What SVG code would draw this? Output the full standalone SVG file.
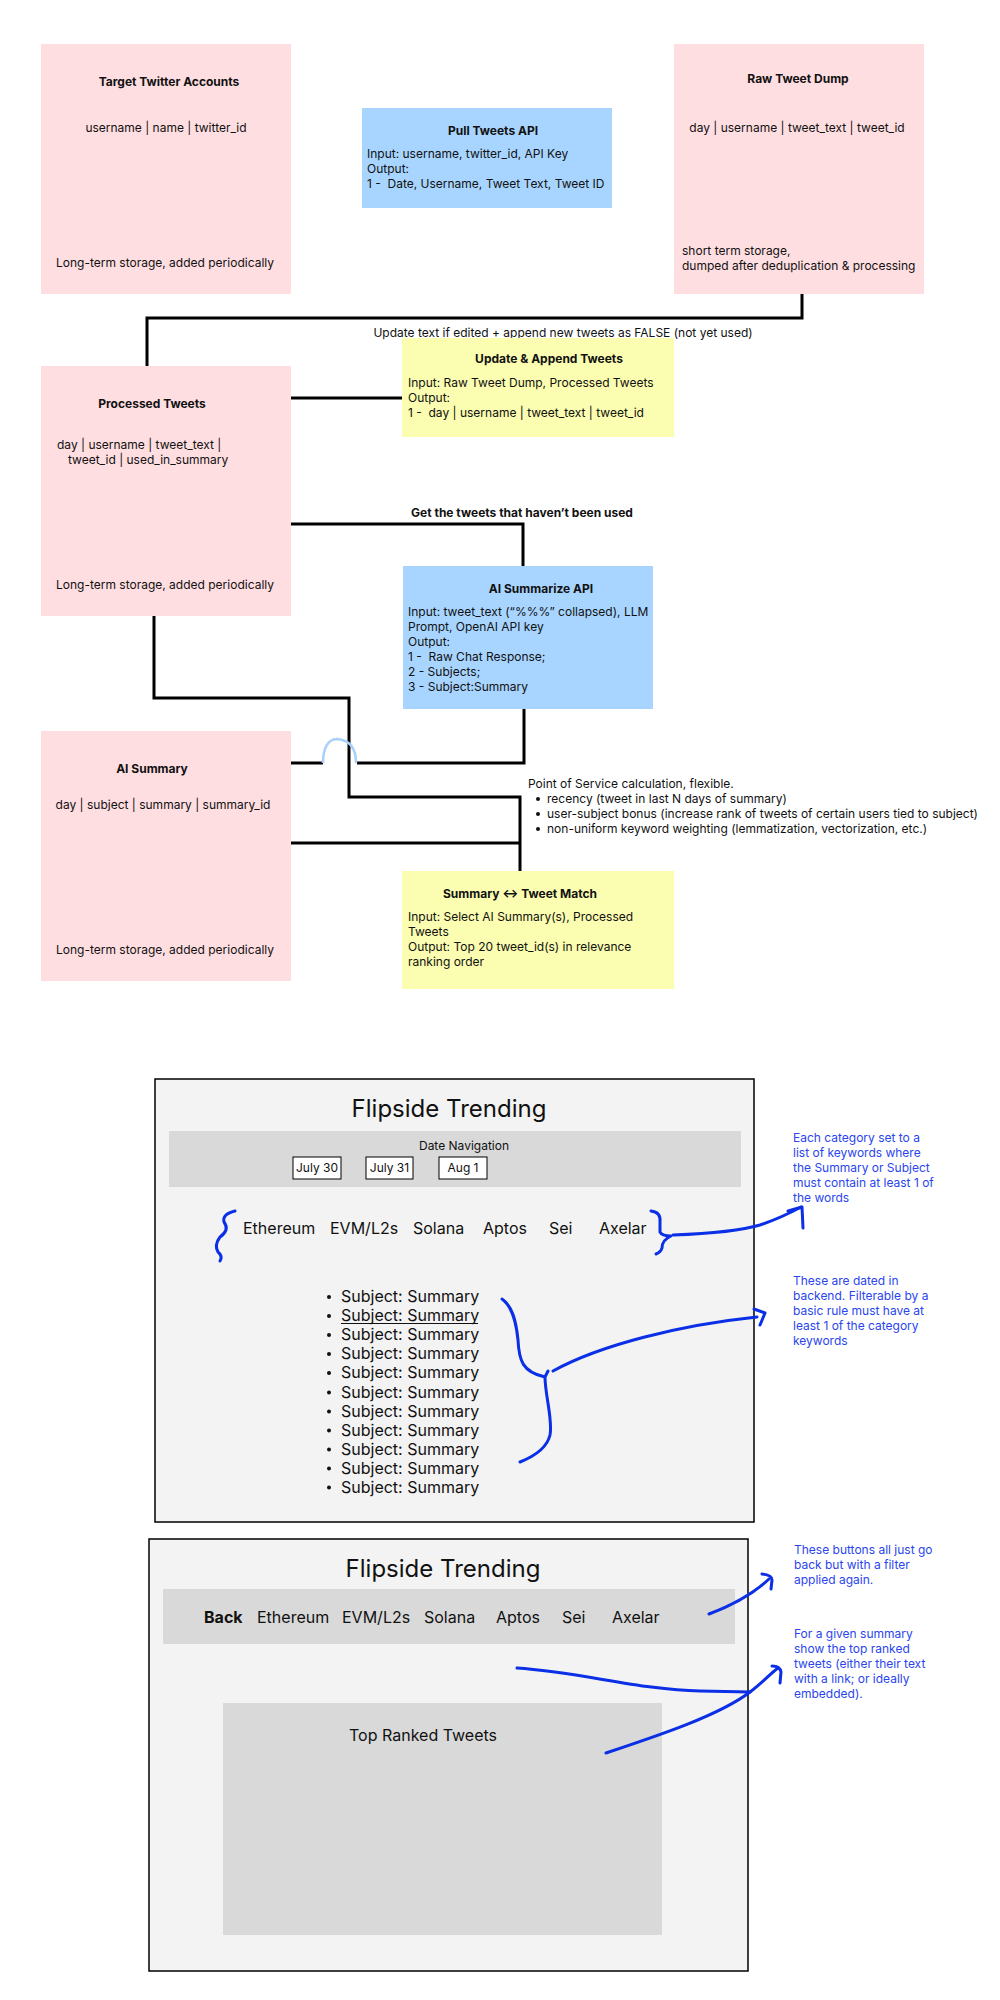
<svg xmlns="http://www.w3.org/2000/svg" width="1000" height="2000" viewBox="0 0 1000 2000">
<style>
text{font-family:Inter,"Liberation Sans","DejaVu Sans",sans-serif;font-size:12px;fill:#111}
.b{font-weight:700}
.c{text-anchor:middle}
.pink{fill:#FFDEE1}
.blue{fill:#A8D5FF}
.yel{fill:#FBFDB0}
.con{stroke:#000;stroke-width:3;fill:none}
.hop{stroke:#A8D0FA;stroke-width:2.5;fill:none}
.ink{stroke:#0A2FE6;stroke-width:3;fill:none;stroke-linecap:round;stroke-linejoin:round}
.note{fill:#2A45EE}
.ui{font-size:16px}
.h{font-size:24px}
.frame{fill:#F3F3F3;stroke:#000;stroke-width:1.5}
.bar{fill:#D9D9D9}
.btn{fill:#fff;stroke:#000;stroke-width:1}
</style>
<rect width="1000" height="2000" fill="#fff"/>

<g id="connectors">
<path class="con" d="M802 294 V318 H147 V366"/>
<path class="con" d="M291 398 H402"/>
<path class="con" d="M289 524 H523 V566"/>
<path class="con" d="M154 616 V698 H349 V797 H520 V871"/>
<path class="con" d="M291 843 H520"/>
<path class="con" d="M524 709 V763 H357"/>
<path class="con" d="M323 763 H287"/>
<path class="hop" d="M356 763 C356 748 350 740 337 739 C327 739 323 750 323 763"/>
<text class="c" x="563" y="337">Update text if edited + append new tweets as FALSE (not yet used)</text>
<text class="c b" x="522" y="517">Get the tweets that haven’t been used</text>
</g>

<g id="target-twitter-accounts">
<rect class="pink" x="41" y="44" width="250" height="250"/>
<text class="c b" x="169" y="86">Target Twitter Accounts</text>
<text class="c" x="166" y="132">username | name | twitter_id</text>
<text class="c" x="165" y="267">Long-term storage, added periodically</text>
</g>

<g id="pull-tweets-api">
<rect class="blue" x="362" y="108" width="250" height="100"/>
<text class="c b" x="493" y="135">Pull Tweets API</text>
<text x="367" y="158">Input: username, twitter_id, API Key</text>
<text x="367" y="173">Output:</text>
<text x="367" y="188">1 -&#160; Date, Username, Tweet Text, Tweet ID</text>
</g>

<g id="raw-tweet-dump">
<rect class="pink" x="674" y="44" width="250" height="250"/>
<text class="c b" x="798" y="83">Raw Tweet Dump</text>
<text class="c" x="797" y="132">day | username | tweet_text | tweet_id</text>
<text x="682" y="255">short term storage,</text>
<text x="682" y="270">dumped after deduplication &amp; processing</text>
</g>

<g id="update-append-tweets">
<rect class="yel" x="402" y="338" width="272" height="99"/>
<text class="c b" x="549" y="363">Update &amp; Append Tweets</text>
<text x="408" y="387">Input: Raw Tweet Dump, Processed Tweets</text>
<text x="408" y="402">Output:</text>
<text x="408" y="417">1 -&#160; day | username | tweet_text | tweet_id</text>
</g>

<g id="processed-tweets">
<rect class="pink" x="41" y="366" width="250" height="250"/>
<text class="c b" x="152" y="408">Processed Tweets</text>
<text x="57" y="449">day | username | tweet_text |</text>
<text x="68" y="464">tweet_id | used_in_summary</text>
<text class="c" x="165" y="589">Long-term storage, added periodically</text>
</g>

<g id="ai-summarize-api">
<rect class="blue" x="403" y="566" width="250" height="143"/>
<text class="c b" x="541" y="593">AI Summarize API</text>
<text x="408" y="616">Input: tweet_text (“%%%” collapsed), LLM</text>
<text x="408" y="631">Prompt, OpenAI API key</text>
<text x="408" y="646">Output:</text>
<text x="408" y="661">1 -&#160; Raw Chat Response;</text>
<text x="408" y="676">2 - Subjects;</text>
<text x="408" y="691">3 - Subject:Summary</text>
</g>

<g id="ai-summary">
<rect class="pink" x="41" y="731" width="250" height="250"/>
<text class="c b" x="152" y="773">AI Summary</text>
<text class="c" x="163" y="809">day | subject | summary | summary_id</text>
<text class="c" x="165" y="954">Long-term storage, added periodically</text>
</g>

<g id="point-of-service-note">
<text x="528" y="788">Point of Service calculation, flexible.</text>
<circle cx="538" cy="799" r="2" fill="#111"/>
<circle cx="538" cy="814" r="2" fill="#111"/>
<circle cx="538" cy="829" r="2" fill="#111"/>
<text x="547" y="803">recency (tweet in last N days of summary)</text>
<text x="547" y="818">user-subject bonus (increase rank of tweets of certain users tied to subject)</text>
<text x="547" y="833">non-uniform keyword weighting (lemmatization, vectorization, etc.)</text>
</g>

<g id="summary-tweet-match">
<rect class="yel" x="402" y="871" width="272" height="118"/>
<text class="c b" x="520" y="898">Summary ↔ Tweet Match</text>
<text x="408" y="921">Input: Select AI Summary(s), Processed</text>
<text x="408" y="936">Tweets</text>
<text x="408" y="951">Output: Top 20 tweet_id(s) in relevance</text>
<text x="408" y="966">ranking order</text>
</g>

<g id="mockup-home">
<rect class="frame" x="155" y="1079" width="599" height="443"/>
<text class="c h" x="449" y="1117">Flipside Trending</text>
<rect class="bar" x="169" y="1131" width="572" height="56"/>
<text class="c" x="464" y="1150">Date Navigation</text>
<rect class="btn" x="293" y="1157" width="48" height="22"/>
<text class="c" x="317" y="1172">July 30</text>
<rect class="btn" x="366" y="1157" width="47" height="22"/>
<text class="c" x="389.5" y="1172">July 31</text>
<rect class="btn" x="439" y="1157" width="48" height="22"/>
<text class="c" x="463" y="1172">Aug 1</text>
<text class="ui" x="243" y="1234">Ethereum</text>
<text class="ui" x="330" y="1234">EVM/L2s</text>
<text class="ui" x="413" y="1234">Solana</text>
<text class="ui" x="483" y="1234">Aptos</text>
<text class="ui" x="549" y="1234">Sei</text>
<text class="ui" x="599" y="1234">Axelar</text>
<g fill="#111">
<circle cx="329" cy="1297" r="2"/><circle cx="329" cy="1316" r="2"/><circle cx="329" cy="1335" r="2"/><circle cx="329" cy="1354" r="2"/><circle cx="329" cy="1373" r="2"/><circle cx="329" cy="1392.5" r="2"/><circle cx="329" cy="1411.5" r="2"/><circle cx="329" cy="1430.5" r="2"/><circle cx="329" cy="1449.5" r="2"/><circle cx="329" cy="1468.5" r="2"/><circle cx="329" cy="1487.5" r="2"/>
</g>
<text class="ui" x="341" y="1302">Subject: Summary</text>
<text class="ui" x="341" y="1321">Subject: Summary</text>
<line x1="341" y1="1323.5" x2="478" y2="1323.5" stroke="#111" stroke-width="1"/>
<text class="ui" x="341" y="1340">Subject: Summary</text>
<text class="ui" x="341" y="1359">Subject: Summary</text>
<text class="ui" x="341" y="1378">Subject: Summary</text>
<text class="ui" x="341" y="1397.5">Subject: Summary</text>
<text class="ui" x="341" y="1416.5">Subject: Summary</text>
<text class="ui" x="341" y="1435.5">Subject: Summary</text>
<text class="ui" x="341" y="1454.5">Subject: Summary</text>
<text class="ui" x="341" y="1473.5">Subject: Summary</text>
<text class="ui" x="341" y="1492.5">Subject: Summary</text>
</g>

<g id="mockup-detail">
<rect class="frame" x="149" y="1539" width="599" height="432"/>
<text class="c h" x="443" y="1577">Flipside Trending</text>
<rect class="bar" x="163" y="1589" width="572" height="55"/>
<text class="ui b" x="204" y="1623">Back</text>
<text class="ui" x="257" y="1623">Ethereum</text>
<text class="ui" x="342" y="1623">EVM/L2s</text>
<text class="ui" x="424" y="1623">Solana</text>
<text class="ui" x="496" y="1623">Aptos</text>
<text class="ui" x="562" y="1623">Sei</text>
<text class="ui" x="612" y="1623">Axelar</text>
<rect class="bar" x="223" y="1703" width="439" height="232"/>
<text class="c ui" x="423" y="1741">Top Ranked Tweets</text>
</g>

<g id="annotations">
<path class="ink" d="M235 1211 Q222 1214 224 1222 Q230 1230 220 1237 Q214 1245 218 1252 Q223 1256 220 1261"/>
<path class="ink" d="M651 1211 Q661 1212 660 1222 L660 1232 Q662 1236 671 1236 Q662 1240 662 1248 Q661 1252 656 1254"/>
<path class="ink" d="M673 1235 C700 1234 740 1231 760 1225 C775 1220 790 1213 801 1207"/>
<path class="ink" d="M788 1211 L802 1207 L803 1228"/>
<path class="ink" d="M502 1299 C512 1306 516 1320 518 1340 C519 1360 522 1372 545 1377 L548 1371 M545 1377 C545 1395 553 1420 550 1435 C547 1448 535 1456 520 1462"/>
<path class="ink" d="M553 1371 C600 1345 680 1325 757 1317"/>
<path class="ink" d="M754 1309 L765 1313 L760 1325"/>
<path class="ink" d="M709 1614 C730 1606 752 1595 769 1579"/>
<path class="ink" d="M762 1574 Q772 1575 772 1580 L771 1589"/>
<path class="ink" d="M517 1668 C580 1672 640 1690 700 1691 L750 1692"/>
<path class="ink" d="M606 1753 C660 1735 720 1715 750 1692 C762 1683 770 1674 778 1668"/>
<path class="ink" d="M772 1666 Q780 1666 781 1672 L780 1683"/>
<text class="note" x="793" y="1142">Each category set to a</text>
<text class="note" x="793" y="1157">list of keywords where</text>
<text class="note" x="793" y="1172">the Summary or Subject</text>
<text class="note" x="793" y="1187">must contain at least 1 of</text>
<text class="note" x="793" y="1202">the words</text>
<text class="note" x="793" y="1285">These are dated in</text>
<text class="note" x="793" y="1300">backend. Filterable by a</text>
<text class="note" x="793" y="1315">basic rule must have at</text>
<text class="note" x="793" y="1330">least 1 of the category</text>
<text class="note" x="793" y="1345">keywords</text>
<text class="note" x="794" y="1554">These buttons all just go</text>
<text class="note" x="794" y="1569">back but with a filter</text>
<text class="note" x="794" y="1584">applied again.</text>
<text class="note" x="794" y="1638">For a given summary</text>
<text class="note" x="794" y="1653">show the top ranked</text>
<text class="note" x="794" y="1668">tweets (either their text</text>
<text class="note" x="794" y="1683">with a link; or ideally</text>
<text class="note" x="794" y="1698">embedded).</text>
</g>
</svg>
